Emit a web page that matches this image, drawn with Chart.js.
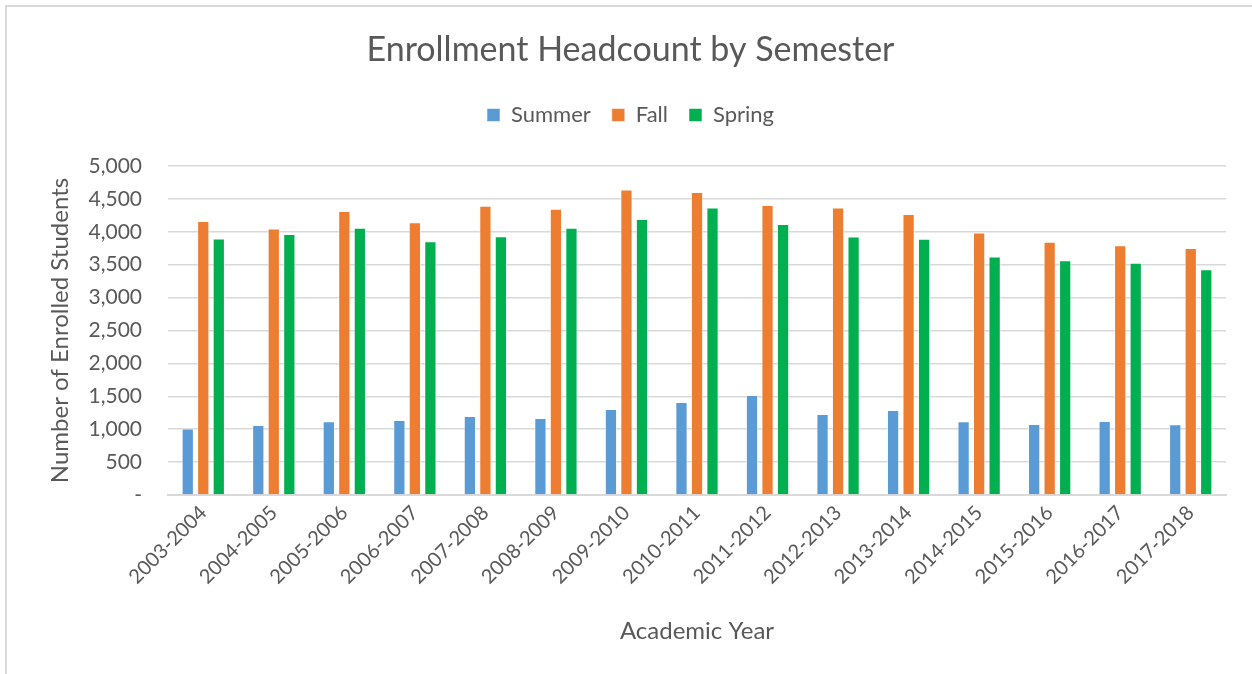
<!DOCTYPE html>
<html>
<head>
<meta charset="utf-8">
<script src="https://cdn.jsdelivr.net/npm/chart.js@4"></script>
<style>
  html, body { margin: 0; padding: 0; background: #fff; overflow: hidden; }
  #frame { position: absolute; left: 5px; top: 5px; width: 1400px; height: 800px;
           border-left: 2px solid #d9d9d9; border-top: 2px solid #d9d9d9; }
  #wrap { position: absolute; left: 0; top: 0; width: 1252px; height: 674px; }
</style>
</head>
<body>
<div id="frame"></div>
<div id="wrap"><canvas id="c" width="1252" height="674"></canvas></div>
<script>
const categories = ["2003-2004","2004-2005","2005-2006","2006-2007","2007-2008","2008-2009","2009-2010","2010-2011","2011-2012","2012-2013","2013-2014","2014-2015","2015-2016","2016-2017","2017-2018"];
const summer = [1010, 1065, 1120, 1141, 1202, 1171, 1308, 1415, 1521, 1232, 1293, 1120, 1080, 1126, 1075];
const fall   = [4163, 4051, 4315, 4147, 4396, 4350, 4644, 4604, 4406, 4370, 4269, 3990, 3848, 3797, 3752];
const spring = [3899, 3965, 4061, 3858, 3934, 4061, 4193, 4370, 4117, 3929, 3894, 3625, 3569, 3529, 3432];
const yTicks = [0, 500, 1000, 1500, 2000, 2500, 3000, 3500, 4000, 4500, 5000];

const FONT = "Lato, 'Open Sans', sans-serif";
const TXT = "#595959";
const GRID = "#d9d9d9";

Chart.defaults.font.family = FONT;
Chart.defaults.color = TXT;

const legendSpacer = {
  id: 'legendSpacer',
  beforeInit(chart) {
    const lg = chart.legend;
    if (!lg) return;
    const origFit = lg.fit;
    lg.fit = function () { origFit.call(this); this.height += 30; };
  }
};

new Chart(document.getElementById('c'), {
  type: 'bar',
  data: {
    labels: categories,
    datasets: [
      { label: 'Summer', data: summer, backgroundColor: '#5B9BD5', borderColor: 'rgba(255,255,255,0.55)', borderWidth: 1 },
      { label: 'Fall',   data: fall,   backgroundColor: '#ED7D31', borderColor: 'rgba(255,255,255,0.55)', borderWidth: 1 },
      { label: 'Spring', data: spring, backgroundColor: '#00B050', borderColor: 'rgba(255,255,255,0.55)', borderWidth: 1 }
    ]
  },
  plugins: [legendSpacer],
  options: {
    responsive: false,
    animation: false,
    devicePixelRatio: 1,
    categoryPercentage: 0.66,
    barPercentage: 0.79,
    layout: { padding: { left: 35, right: 26, top: 0, bottom: 0 } },
    plugins: {
      title: {
        display: true,
        text: 'Enrollment Headcount by Semester',
        font: { size: 34, weight: 'normal', family: FONT },
        color: TXT,
        padding: { top: 29.6, bottom: 12.6 }
      },
      legend: {
        display: true,
        position: 'top',
        labels: {
          boxWidth: 13, boxHeight: 13,
          font: { size: 22, family: FONT },
          color: TXT,
          padding: 21
        }
      },
      tooltip: { enabled: false }
    },
    scales: {
      x: {
        grid: { display: false, drawTicks: false },
        border: { display: true, color: GRID, width: 2 },
        ticks: { minRotation: 45, maxRotation: 45, autoSkip: false, font: { size: 20, family: FONT }, color: TXT, padding: 6 },
        title: { display: true, text: 'Academic Year', font: { size: 24, family: FONT }, color: TXT, padding: { top: 0, bottom: 28.6 } },
        afterFit: (s) => { s.height = 179; }
      },
      y: {
        min: 0, max: 5000,
        afterBuildTicks: (s) => { s.ticks = yTicks.map(v => ({ value: v })); },
        grid: { color: GRID, lineWidth: 1.5, drawTicks: false },
        border: { display: false },
        ticks: {
          font: { size: 21, family: FONT }, color: TXT, padding: 26,
          callback: (v) => v === 0 ? '-' : v.toLocaleString('en-US')
        },
        title: { display: true, text: 'Number of Enrolled Students', font: { size: 24, family: FONT }, color: TXT, padding: { top: 10.6, bottom: 0 } },
        afterFit: (s) => { s.width = 133; }
      }
    }
  }
});
</script>
</body>
</html>
